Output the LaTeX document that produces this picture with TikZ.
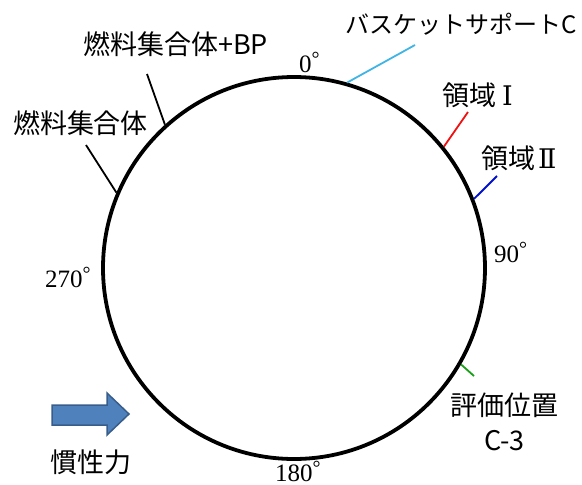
\documentclass[tikz,border=0pt]{standalone}
\usepackage{fontspec}
\setmainfont{Liberation Serif}
\newfontfamily\jp{Noto Sans CJK JP}
\newfontfamily\rn{DejaVu Serif}
\definecolor{cyanline}{HTML}{41B4E6}
\definecolor{redline}{HTML}{F01010}
\definecolor{blueline}{HTML}{0010D0}
\definecolor{greenline}{HTML}{18A018}
\definecolor{arrowfill}{HTML}{4F81BD}
\definecolor{arrowdraw}{HTML}{385D8A}
\newcommand{\dg}{\raisebox{7pt}{\fontsize{20}{20}\selectfont °}}
\begin{document}
\begin{tikzpicture}[x=1pt,y=-1pt,
  tick/.style={line width=1.8pt},
  jlab/.style={font=\jp\fontsize{27}{30}\selectfont, inner sep=0pt},
  klab/.style={font=\jp\fontsize{24}{28}\selectfont, inner sep=0pt},
  deg/.style={font=\fontsize{25}{28}\selectfont, inner sep=0pt, anchor=base west}]
\useasboundingbox (0,0) rectangle (582,485);
\node[draw, circle, line width=3.8pt, minimum size=382pt, inner sep=0pt] (ring) at (294,268) {};
% ticks
\coordinate (cyanend) at (415,45);
\coordinate (redend) at (468,112);
\coordinate (blueend) at (497,176);
\coordinate (greenend) at (474,376);
\coordinate (bpend) at (147,74);
\coordinate (faend) at (86,145);
\draw[tick, cyanline] (ring.74.7) -- (cyanend);
\draw[tick, redline] (ring.39.5) -- (redend);
\draw[tick, blueline] (ring.21.5) -- (blueend);
\draw[tick, greenline] (ring.-30.7) -- (greenend);
\draw[tick, black] (ring.132.5) -- (bpend);
\draw[tick, black] (ring.157) -- (faend);
% labels
\node[klab] (basket) at (461.5,24) {バスケットサポートC};
\node[jlab, anchor=west] (reg1) at (442,95) {領域\hspace{6pt}{\rn\fontsize{27}{30}\selectfont Ⅰ}};
\node[jlab, anchor=west] (reg2) at (481,158.5) {領域\hspace{3pt}{\rn\fontsize{27}{30}\selectfont Ⅱ}};
\node[jlab] (fabp) at (175.5,44.5) {燃料集合体+BP};
\node[jlab] (fa) at (80.5,123.5) {燃料集合体};
\node[jlab] (eval) at (504,405.5) {評価位置};
\node[jlab] (evalc) at (504.5,441) {C-3};
\node[jlab] (inertia) at (91,462) {慣性力};
% degrees
\node[deg] (d0) at (299,72) {0\dg};
\node[deg] (d90) at (494,262) {90\dg};
\node[deg] (d180) at (275,481) {180\dg};
\node[deg] (d270) at (45,287) {270\dg};
% inertia arrow
\filldraw[fill=arrowfill, draw=arrowdraw, line width=1.5pt, line join=miter]
  (52,405) -- (107,405) -- (107,393) -- (129,414) -- (107,435) -- (107,425) -- (52,425) -- cycle;
\end{tikzpicture}
\end{document}
